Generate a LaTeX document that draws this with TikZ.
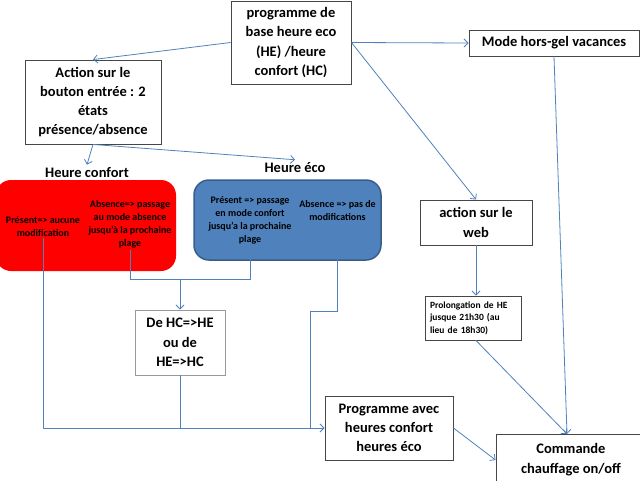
\documentclass[tikz,border=0pt]{standalone}
\usepackage{fontspec}
\setmainfont{Carlito}
\usetikzlibrary{arrows.meta}
\definecolor{linkblue}{RGB}{79,129,189}
\definecolor{boxgray}{RGB}{70,70,70}
\definecolor{ecoblue}{RGB}{79,129,189}
\definecolor{ecoborder}{RGB}{56,93,138}
\definecolor{hotred}{RGB}{255,0,0}
\tikzset{
  box/.style={draw=boxgray, line width=0.9pt, fill=white, inner sep=0pt, align=center,
              font=\bfseries\fontsize{14.5}{19.3}\selectfont},
  smalltxt/.style={inner sep=1pt, align=center, font=\bfseries\fontsize{10}{13}\selectfont},
  lbl/.style={inner sep=3pt, font=\bfseries\fontsize{14.5}{17}\selectfont},
  conn/.style={draw=linkblue, line width=0.8pt},
  arr/.style={conn, -{Straight Barb[length=4pt,width=8pt]}},
  zone/.style={rounded corners=15pt, inner sep=0pt}
}
\begin{document}
\begin{tikzpicture}[x=1pt,y=-1pt]
\useasboundingbox (0,0) rectangle (640,480);
% zones
\node[zone, fill=hotred, minimum width=180, minimum height=91] (redzone) at (86,225.5) {};
\node[zone, fill=ecoblue, draw=ecoborder, line width=1.5pt, minimum width=187, minimum height=80] (bluezone) at (287.5,220) {};
% zone texts
\node[smalltxt] (pr) at (43,226.5) {Présent=> aucune\\modification};
\node[smalltxt] (ar) at (130,224.5) {Absence=> passage\\au mode absence\\jusqu'à la prochaine\\plage};
\node[smalltxt] (pb) at (250,220) {Présent => passage\\en mode confort\\jusqu'a la prochaine\\plage};
\node[smalltxt] (ab) at (337.5,210.5) {Absence => pas de\\modifications};
% labels
\node[lbl] (hc) at (87,173) {Heure confort};
\node[lbl] (he) at (295,168) {Heure éco};
% boxes
\node[box, minimum width=120, minimum height=83] (base) at (291,42.5) {programme de\\base heure eco\\(HE) /heure\\confort (HC)};
\node[box, minimum width=136, minimum height=84] (act) at (93,102) {Action sur le\\bouton entrée : 2\\états\\présence/absence};
\node[box, draw=black!40, minimum width=90, minimum height=65] (dehc) at (180,342.5) {De HC=>HE\\ou de\\HE=>HC};
\node[box, minimum width=128, minimum height=64] (prog) at (389,428) {Programme avec\\heures confort\\heures éco};
\node[box, font=\bfseries\fontsize{14.5}{20}\selectfont, minimum width=150, minimum height=52] (cmd) at (571,460) {Commande\\chauffage on/off};
\node[box, minimum width=170, minimum height=26] (mode) at (554,43) {Mode hors-gel vacances};
\node[box, minimum width=112, minimum height=45] (web) at (476,222.5) {action sur le\\web};
\node[box, align=left, font=\bfseries\fontsize{9.5}{12.5}\selectfont, minimum width=96, minimum height=44, text width=86] (prol) at (473,318) {Prolongation de HE\\jusque 21h30 (au\\lieu de 18h30)};
% junction points
\coordinate (j1) at (130,279);
\coordinate (j2) at (250,279);
\coordinate (j3) at (180,279);
\coordinate (j4) at (43,428);
\coordinate (k2) at (310,311);
\coordinate (k3) at (310,428);
\coordinate (ct) at (567,434);
% connectors
\draw[arr] (base.west) -- (act.north);
\draw[arr] (base.east) -- (mode.west);
\draw[arr] (base.east) -- (web.north);
\draw[arr] (act.south) -- (hc.north);
\draw[arr] (act.south) -- (he.north);
\draw[conn] (ar.south) -- (j1) -- (j2) -- (pb.south);
\draw[arr] (j3) -- (dehc.north);
\draw[arr] (pr.south) -- (j4) -- (prog.west);
\draw[conn] (dehc.south) -- (dehc.south |- j4);
\draw[conn] (ab.south) |- (k2) -- (k3);
\draw[arr] (web.south) -- (web.south |- prol.north);
\draw[arr] (mode.south) -- (ct);
\draw[arr] (web.south |- prol.south) -- (ct);
\draw[arr] (prog.east) -- (cmd.west);
\end{tikzpicture}
\end{document}
